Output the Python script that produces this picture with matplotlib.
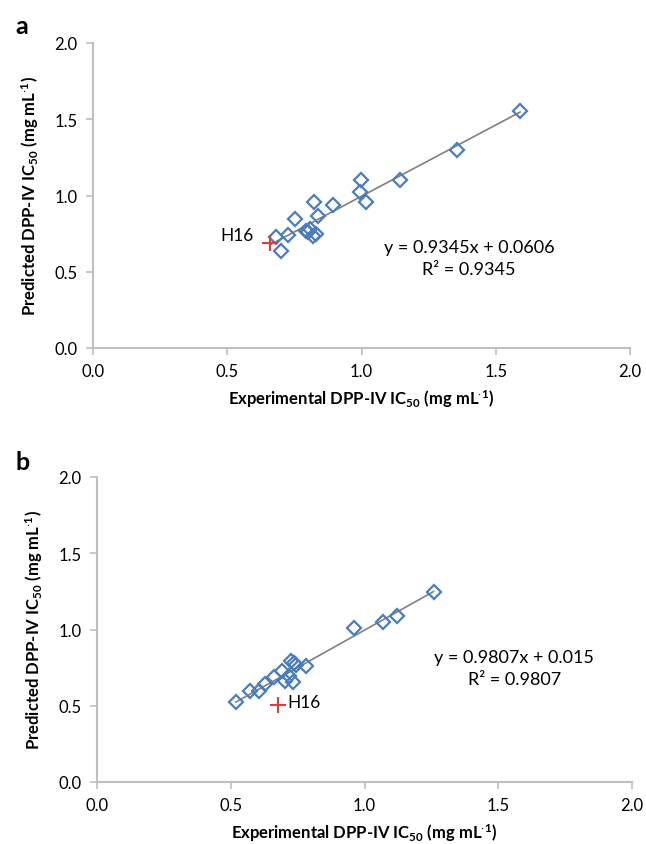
import matplotlib
matplotlib.use("Agg")
import matplotlib.pyplot as plt
import numpy as np

plt.rcParams['font.family'] = ['Lato', 'DejaVu Sans']
plt.rcParams['mathtext.fontset'] = 'custom'
plt.rcParams['mathtext.rm'] = 'Lato'
plt.rcParams['mathtext.bf'] = 'Lato:bold'
plt.rcParams['mathtext.default'] = 'regular'

# Panel a data
a_exp = [1.591, 1.357, 1.143, 0.997, 0.994, 1.017, 0.893, 0.823, 0.837, 0.754,
         0.794, 0.80, 0.82, 0.83, 0.81, 0.725, 0.683, 0.700]
a_pred = [1.552, 1.298, 1.104, 1.102, 1.021, 0.959, 0.938, 0.955, 0.864, 0.846,
          0.769, 0.76, 0.735, 0.745, 0.78, 0.741, 0.726, 0.638]
a_h16 = (0.658, 0.689)
a_slope, a_icpt, a_r2 = 0.9345, 0.0606, 0.9345

# Panel b data
b_exp = [1.258, 1.123, 1.069, 0.962, 0.783, 0.727, 0.735, 0.745, 0.690, 0.661,
         0.718, 0.702, 0.731, 0.627, 0.606, 0.571, 0.519]
b_pred = [1.244, 1.087, 1.051, 1.008, 0.759, 0.796, 0.78, 0.77, 0.730, 0.687,
          0.693, 0.664, 0.658, 0.643, 0.599, 0.599, 0.523]
b_h16 = (0.677, 0.507)
b_slope, b_icpt, b_r2 = 0.9807, 0.015, 0.9807

ticks = [0.0, 0.5, 1.0, 1.5, 2.0]
tick_labels = ['0.0', '0.5', '1.0', '1.5', '2.0']

W, H = 646, 845
fig = plt.figure(figsize=(W / 100, H / 100), dpi=100)

blue = '#4a7ebb'
red = '#d0443f'
spine_col = '#bfbfbf'

xlabel = r'Experimental DPP-IV IC$_{\mathbf{50}}$ (mg mL$^{\mathbf{\cdot 1}}$)'
ylabel = r'Predicted DPP-IV IC$_{\mathbf{50}}$ (mg mL$^{\mathbf{\cdot 1}}$)'


def panel(rect, xs, ys, h16, slope, icpt, r2, eq_pos, h16_lab, h16_ha, letter, letter_pos):
    ax = fig.add_axes(rect)
    ax.set_xlim(0, 2.0)
    ax.set_ylim(0, 2.0)
    for s in ['top', 'right']:
        ax.spines[s].set_visible(False)
    for s in ['left', 'bottom']:
        ax.spines[s].set_color(spine_col)
        ax.spines[s].set_linewidth(1.5)
    ax.set_xticks(ticks)
    ax.set_xticklabels(tick_labels)
    ax.set_yticks(ticks)
    ax.set_yticklabels(tick_labels)
    ax.tick_params(direction='out', length=5, width=1.2, color=spine_col,
                   labelsize=12, labelcolor='black', pad=6)
    allx = list(xs) + [h16[0]]
    xl = np.array([min(allx), max(allx)])
    ax.plot(xl, slope * xl + icpt, color='#808080', lw=1.2, zorder=2)
    ax.plot(xs, ys, linestyle='none', marker='D', markersize=7.5,
            markerfacecolor='none', markeredgecolor=blue, markeredgewidth=1.6, zorder=3)
    ax.plot([h16[0]], [h16[1]], linestyle='none', marker='+', markersize=11,
            markeredgecolor=red, markeredgewidth=1.5, zorder=4)
    ax.text(h16_lab[0], h16_lab[1], 'H16', ha=h16_ha, va='center', fontsize=12.5)
    sign = '+' if icpt >= 0 else '-'
    ax.text(eq_pos[0], eq_pos[1], f'y = {slope}x {sign} {abs(icpt)}',
            ha='center', va='center', fontsize=13)
    ax.text(eq_pos[0], eq_pos[1] - 0.145, f'R² = {r2}', ha='center', va='center', fontsize=13)
    ax.set_xlabel(xlabel, fontsize=12, fontweight='bold', labelpad=6)
    ax.set_ylabel(ylabel, fontsize=12, fontweight='bold', labelpad=10)
    fig.text(letter_pos[0], letter_pos[1], letter, fontsize=18, fontweight='bold',
             ha='center', va='center')
    return ax


panel([93 / W, 1 - 349 / H, (630 - 93) / W, (349 - 44) / H], a_exp, a_pred, a_h16,
      a_slope, a_icpt, a_r2, (1.40, 0.66), (0.60, 0.74), 'right', 'a', (22 / W, 1 - 26 / H))
panel([97 / W, 1 - 783 / H, (632 - 97) / W, (783 - 478) / H], b_exp, b_pred, b_h16,
      b_slope, b_icpt, b_r2, (1.56, 0.82), (0.71, 0.525), 'left', 'b', (23 / W, 1 - 463 / H))

fig.savefig('out.png', dpi=100)
